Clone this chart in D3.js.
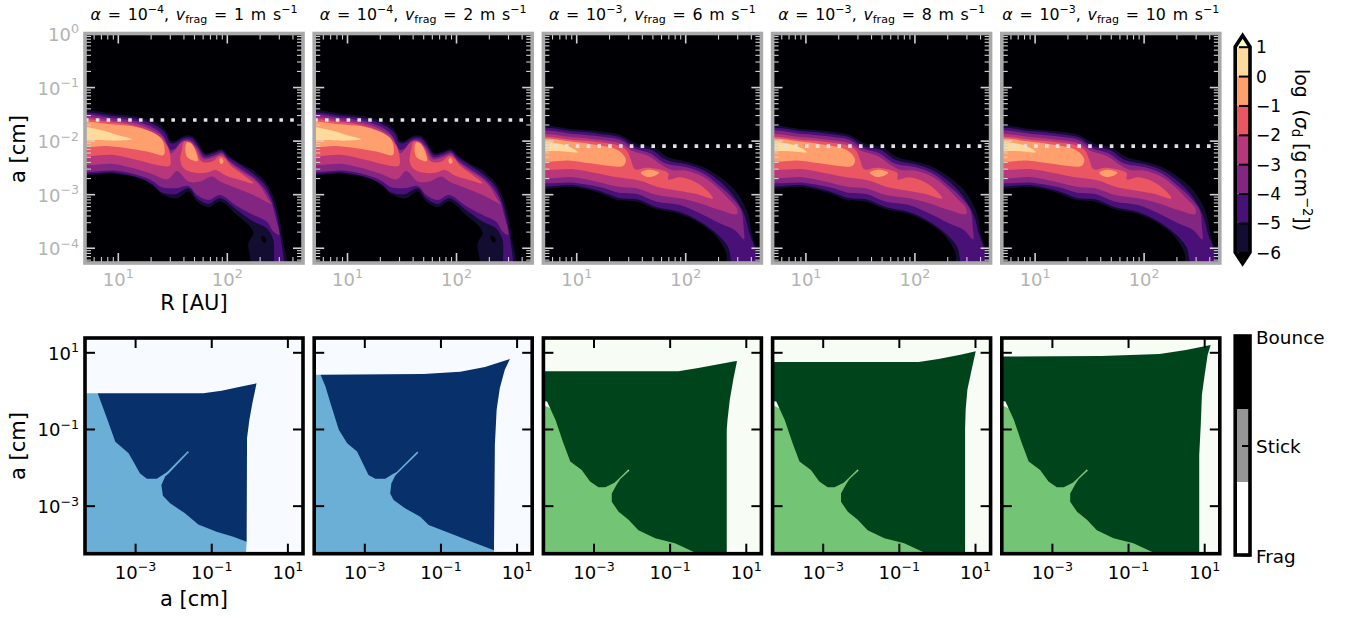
<!DOCTYPE html>
<html><head><meta charset="utf-8">
<script src="https://d3js.org/d3.v7.min.js"></script>
<style>
html,body{margin:0;padding:0;background:#fff}
svg{display:block}
text{font-family:"DejaVu Sans",sans-serif}
</style></head><body>
<svg id="fig" width="1351" height="617"></svg>
<script>
(function(){
// ---------- panel values ----------
const alphaExp = ["−4","−4","−3","−3","−3"];
const vFrag = [1,2,6,8,10];
const dottedSize = [0.0243,0.0243,0.0079,0.0079,0.0079]; // cm
const sigmaLevels = [-6,-5,-4,-3,-2,-1,0,1];
const sigmaColors = ["#120d31","#491078","#832681","#b8377a","#ea5661","#fe9f6d","#feda9c"];
const tipTopColor = "#fcfdbf", tipBottomColor = "#000004";
const regimeLabels = ["Frag","Stick","Bounce"];
const regimeGreys = ["#ffffff","#969696","#000000"];
const blues = ["#f7fbff","#6baed6","#08306b"];
const greens = ["#f7fcf5","#74c476","#00441b"];

// ---------- contour outlines: [log10 R/AU, log10 a/cm] ----------
// low alpha model (panels 1-2)
const lowM6 = [[.6,-1.49],[.963,-1.502],[1.207,-1.564],[1.39,-1.708],[1.457,-1.863],[1.482,-2],[1.527,-2.006],[1.604,-1.913],[1.68,-1.913],[1.741,-2.05],[1.802,-2.236],[1.878,-2.205],[1.954,-2.156],[2.015,-2.268],[2.122,-2.423],[2.244,-2.56],[2.366,-2.797],[2.427,-3.045],[2.473,-3.357],[2.503,-3.73],[2.534,-4.4],[2.244,-4.4],[2.213,-4.166],[2.198,-3.917],[2.244,-3.73],[2.213,-3.605],[2.091,-3.388],[1.939,-3.139],[1.832,-3.245],[1.726,-3.139],[1.649,-2.952],[1.543,-3.077],[1.42,-3.014],[1.329,-2.859],[1.207,-2.703],[.963,-2.622],[.6,-2.579]];
const lowHole = [[2.32,-3.78],[2.351,-3.805],[2.363,-3.885],[2.341,-3.904],[2.32,-3.842]];
const lowM5 = [[.6,-1.527],[.963,-1.54],[1.192,-1.602],[1.375,-1.751],[1.445,-1.894],[1.476,-2.037],[1.518,-2.05],[1.604,-1.95],[1.68,-1.95],[1.732,-2.081],[1.802,-2.268],[1.878,-2.236],[1.954,-2.193],[2.015,-2.311],[2.122,-2.454],[2.244,-2.622],[2.351,-2.828],[2.412,-3.077],[2.457,-3.388],[2.488,-3.73],[2.524,-4.24],[2.53,-4.4],[2.448,-4.4],[2.427,-3.854],[2.366,-3.637],[2.244,-3.512],[2.091,-3.294],[1.939,-3.077],[1.832,-3.182],[1.726,-3.077],[1.649,-2.89],[1.527,-3.002],[1.405,-2.971],[1.314,-2.809],[1.177,-2.685],[.963,-2.597],[.6,-2.548]];
const lowM4 = [[.6,-1.564],[.963,-1.583],[1.177,-1.645],[1.36,-1.801],[1.42,-1.925],[1.457,-2.081],[1.488,-2.174],[1.527,-2.143],[1.604,-1.988],[1.665,-1.988],[1.726,-2.112],[1.793,-2.311],[1.878,-2.28],[1.954,-2.224],[2.015,-2.361],[2.122,-2.516],[2.244,-2.685],[2.335,-2.871],[2.402,-3.108],[2.442,-3.388],[2.479,-3.761],[2.427,-3.699],[2.366,-3.512],[2.244,-3.388],[2.091,-3.22],[1.939,-3.014],[1.832,-3.108],[1.726,-3.014],[1.649,-2.846],[1.527,-2.89],[1.405,-2.871],[1.314,-2.747],[1.177,-2.641],[.963,-2.56],[.6,-2.516]];
const lowM3 = [[.6,-1.614],[.963,-1.627],[1.177,-1.689],[1.345,-1.832],[1.42,-1.956],[1.457,-2.143],[1.488,-2.236],[1.527,-2.174],[1.588,-2.019],[1.665,-2.019],[1.72,-2.143],[1.787,-2.348],[1.878,-2.311],[1.954,-2.255],[2.015,-2.392],[2.122,-2.56],[2.244,-2.722],[2.32,-2.89],[2.381,-3.108],[2.412,-3.182],[2.244,-3.014],[2.091,-2.89],[1.939,-2.765],[1.863,-2.672],[1.756,-2.765],[1.649,-2.765],[1.543,-2.566],[1.457,-2.722],[1.314,-2.622],[1.177,-2.535],[.963,-2.436],[.6,-2.392]];
const lowM2a = [[.6,-1.645],[.963,-1.664],[1.162,-1.726],[1.329,-1.851],[1.405,-1.975],[1.457,-2.112],[1.482,-2.299],[1.476,-2.467],[1.36,-2.454],[1.177,-2.361],[.963,-2.268],[.6,-2.236]];
const lowM2b = [[1.588,-2.174],[1.61,-2.019],[1.665,-2.031],[1.71,-2.143],[1.771,-2.392],[1.863,-2.392],[1.939,-2.286],[1.985,-2.33],[2.03,-2.454],[2.152,-2.641],[2.244,-2.797],[2.122,-2.734],[2,-2.66],[1.893,-2.548],[1.817,-2.597],[1.695,-2.597],[1.604,-2.516],[1.573,-2.361]];
const lowM1a = [[.6,-1.689],[.963,-1.701],[1.177,-1.751],[1.345,-1.876],[1.405,-1.975],[1.427,-2.112],[1.42,-2.268],[1.268,-2.205],[1.085,-2.143],[.902,-2.1],[.6,-2.081]];
const lowM1b = [[1.619,-2.143],[1.634,-2.037],[1.67,-2.05],[1.71,-2.174],[1.732,-2.38],[1.68,-2.361],[1.634,-2.299]];
const lowM1c = [[1.933,-2.348],[1.951,-2.324],[1.97,-2.392],[1.954,-2.436],[1.936,-2.411]];
const lowZ0 = [[.6,-1.751],[.841,-1.801],[.994,-1.894],[1.131,-1.975],[.994,-2],[.841,-1.988],[.6,-1.956]];
// high alpha model (panels 3-5)
const highM6 = [[.6,-1.769],[.979,-1.788],[1.222,-1.832],[1.404,-1.894],[1.556,-2.062],[1.708,-2.125],[1.845,-2.312],[2.012,-2.393],[2.164,-2.486],[2.316,-2.673],[2.468,-2.953],[2.574,-3.358],[2.611,-3.732],[2.65,-3.969],[2.68,-3.981],[2.75,-4],[2.75,-4.4],[2.392,-4.4],[2.377,-4.106],[2.286,-3.794],[2.134,-3.545],[1.951,-3.371],[1.739,-3.283],[1.556,-3.14],[1.374,-3.109],[1.222,-2.984],[.979,-2.872],[.6,-2.829]];
const highM5 = [[.6,-1.813],[.979,-1.826],[1.222,-1.875],[1.404,-1.938],[1.541,-2.112],[1.693,-2.174],[1.83,-2.361],[2.012,-2.442],[2.164,-2.548],[2.301,-2.735],[2.438,-3.016],[2.544,-3.389],[2.59,-3.732],[2.635,-3.981],[2.657,-4.255],[2.66,-4.4],[2.453,-4.4],[2.392,-3.981],[2.286,-3.732],[2.134,-3.508],[1.951,-3.333],[1.739,-3.246],[1.556,-3.097],[1.389,-3.072],[1.222,-2.947],[.979,-2.835],[.6,-2.785]];
const highM4 = [[.6,-1.863],[.979,-1.875],[1.222,-1.925],[1.404,-1.988],[1.526,-2.143],[1.678,-2.237],[1.815,-2.424],[2.012,-2.498],[2.164,-2.611],[2.286,-2.798],[2.422,-3.047],[2.514,-3.296],[2.535,-3.607],[2.538,-3.844],[2.453,-3.67],[2.316,-3.545],[2.134,-3.358],[1.951,-3.202],[1.739,-3.14],[1.556,-2.997],[1.389,-2.972],[1.222,-2.872],[.979,-2.785],[.6,-2.723]];
const highM3 = [[.6,-1.925],[.979,-1.938],[1.222,-1.988],[1.404,-2.05],[1.511,-2.187],[1.663,-2.287],[1.784,-2.455],[1.875,-2.548],[2.012,-2.561],[2.164,-2.673],[2.286,-2.86],[2.407,-3.109],[2.474,-3.265],[2.474,-3.371],[2.316,-3.296],[2.134,-3.171],[1.951,-3.078],[1.739,-3.016],[1.556,-2.891],[1.389,-2.86],[1.191,-2.766],[.979,-2.685],[.6,-2.642]];
const highM2 = [[.6,-1.969],[.979,-1.988],[1.191,-2.025],[1.404,-2.1],[1.471,-2.206],[1.502,-2.361],[1.541,-2.536],[1.647,-2.505],[1.754,-2.536],[1.845,-2.611],[1.845,-2.723],[1.951,-2.685],[2.088,-2.766],[2.195,-2.922],[2.255,-3.078],[2.073,-2.984],[1.891,-2.922],[1.739,-2.86],[1.587,-2.748],[1.374,-2.685],[1.161,-2.598],[.979,-2.536],[.6,-2.486]];
const highM1a = [[.6,-2],[.979,-2.025],[1.191,-2.081],[1.343,-2.143],[1.419,-2.237],[1.456,-2.361],[1.429,-2.474],[1.313,-2.474],[1.131,-2.424],[.948,-2.374],[.6,-2.349]];
const highM1b = [[1.593,-2.598],[1.647,-2.548],[1.723,-2.561],[1.76,-2.598],[1.723,-2.654],[1.647,-2.673]];
const highZ0 = [[.6,-2.05],[.857,-2.062],[.964,-2.143],[1.015,-2.218],[.918,-2.206],[.796,-2.193],[.6,-2.187]];

const lowBands = [[lowM6],[lowM5],[lowM4],[lowM3],[lowM2a,lowM2b],[lowM1a,lowM1b,lowM1c],[lowZ0]];
const highBands = [[highM6],[highM5],[highM4],[highM3],[highM2],[highM1a,highM1b],[highZ0]];

// ---------- collision regime outlines: [log10 a/cm, log10 a/cm] ----------
const bounce1 = [[-3.98,-.07],[-1.21,-.07],[-.73,0],[-.24,.1],[.19,.19],[.08,-.33],[0,-.77],[-.06,-1.24],[-.07,-3.94],[-.42,-3.81],[-.86,-3.68],[-1.34,-3.49],[-1.69,-3.2],[-2.08,-2.94],[-2.27,-2.74],[-2.31,-2.46],[-2.21,-2.24],[-2.12,-2.16],[-1.59,-1.61],[-1.62,-1.58],[-2.16,-2.12],[-2.28,-2.2],[-2.43,-2.3],[-2.69,-2.3],[-2.87,-2.16],[-3.17,-1.63],[-3.52,-1.33],[-3.74,-.72],[-3.92,-.24]];
const bounce2 = [[-4.15,.416],[-1.45,.433],[-.48,.495],[.17,.617],[.825,.826],[.69,.547],[.56,.067],[.476,-.5],[.43,-1.414],[.406,-4.16],[-.18,-3.94],[-.7,-3.74],[-1.31,-3.505],[-1.53,-3.29],[-1.93,-3.07],[-2.23,-2.85],[-2.32,-2.68],[-2.29,-2.42],[-2.19,-2.22],[-2.12,-2.15],[-1.58,-1.62],[-1.61,-1.59],[-2.15,-2.12],[-2.26,-2.18],[-2.45,-2.3],[-2.71,-2.3],[-2.89,-2.2],[-3.19,-1.59],[-3.45,-1.37],[-3.67,-1.02],[-3.89,-.325],[-4.02,.11]];
const edgeHigh = [[-.25,-4.26],[-.86,-3.98],[-1.38,-3.85],[-1.82,-3.64],[-2.08,-3.37],[-2.34,-3.16],[-2.52,-2.9],[-2.52,-2.68],[-2.39,-2.45],[-2.3,-2.31],[-2.06,-2.09],[-2.09,-2.06],[-2.33,-2.29],[-2.45,-2.4],[-2.69,-2.52],[-2.87,-2.52],[-3.09,-2.37],[-3.31,-2.07],[-3.61,-1.85],[-3.79,-1.37],[-4,-.76],[-4.22,-.28],[-4.6,-.24]];
const top3 = [[-4.6,.503],[-.77,.503],[-.25,.59],[.71,.765],[.77,.77],[.67,.285],[.58,-.24],[.52,-.76],[.5,-1.02],[.5,-4.6],[-.25,-4.6]];
const top4 = [[-4.6,.747],[-.48,.747],[.04,.826],[.65,.94],[1.02,1.03],[.93,.63],[.8,.024],[.755,-.5],[.74,-1],[.74,-4.6],[-.25,-4.6]];
const top5 = [[-4.6,.887],[-1.7,.904],[-.17,.957],[.52,1.06],[1.17,1.19],[1.09,.93],[1,.32],[.94,-.11],[.91,-.89],[.87,-1.68],[.87,-4.6],[-.25,-4.6]];
const stickFill1 = [[-4.6,-.07],[-3.98,-.07],[-2,-1],[-.07,-3.94],[-.11,-4.6],[-4.6,-4.6]];
const stickFill2 = [[-4.6,.416],[-4.15,.416],[-2,-1],[.406,-4.16],[.39,-4.6],[-4.6,-4.6]];
const stickFillHigh = [[-4.6,-.24],[-3,-1],[-.25,-4.26],[-.25,-4.6],[-4.6,-4.6]];
const bouncePolys = [bounce1,bounce2,top3.concat(edgeHigh),top4.concat(edgeHigh),top5.concat(edgeHigh)];
const stickPolys = [stickFill1,stickFill2,stickFillHigh,stickFillHigh,stickFillHigh];
const regimeCols = [blues,blues,greens,greens,greens];

// ---------- tick values ----------
const decades = [-4,-3,-2,-1,0];
const rMajor = [10,100];
const rMinor = [6,7,8,9,20,30,40,50,60,70,80,90,200,300,400];
const aMajor = decades.map(e=>Math.pow(10,e));
const aMinor = [-5,-4,-3,-2,-1].flatMap(e=>[2,3,4,5,6,7,8,9].map(m=>m*Math.pow(10,e))).filter(v=>v>5.2e-5);
const mapTicks = [1e-3,1e-1,1e1];

// ---------- layout ----------
const svg = d3.select("#fig");
const panelLeft = i => 85 + i*229.2;
const panelW = 218;
const topBox = {y0:33.5,y1:263}, botBox = {y0:338,y1:553.7};
const grayTick = "#d0d0d0", grayLab = "#b3b3b3", grayFrame = "#a9a9a9";
const FS = 18;

function rich(sel, parts){
  // parts: [string, style] where style is "", "i", "sup" or "sub"
  let shift = 0;
  parts.forEach(([s,st])=>{
    const fs = parseFloat(sel.attr("font-size"));
    const t = sel.append("tspan").text(s);
    let want = 0;
    if(st==="sup"){ want = -fs*.42; t.attr("font-size",fs*.7); }
    if(st==="sub"){ want = fs*.17; t.attr("font-size",fs*.7); }
    if(st==="i") t.attr("font-style","italic");
    t.attr("dy",want-shift);
    shift = want;
  });
}
function sup(d){
  const e = Math.round(Math.log10(d));
  return [["10",""],[e<0?"−"+Math.abs(e):String(e),"sup"]];
}
function ticks(g, gen, vals, len, color, width){
  const a = gen.tickValues(vals).tickSizeInner(-len).tickSizeOuter(0).tickPadding(6).tickFormat(d=>d);
  const n = g.append("g").call(a);
  n.select(".domain").remove();
  n.selectAll("line").attr("stroke",color).attr("stroke-width",width);
  return n;
}
function labelX(n, base, color){
  n.selectAll("text").each(function(d){
    const t = d3.select(this).text(null).attr("dy",null).attr("y",base).attr("fill",color)
      .attr("font-size",FS).attr("text-anchor","middle");
    rich(t,sup(d));
  });
}
function labelY(n, color){
  n.selectAll("text").each(function(d){
    const t = d3.select(this).text(null).attr("dy",null).attr("y",7).attr("x",-6).attr("fill",color)
      .attr("font-size",FS).attr("text-anchor","end");
    rich(t,sup(d));
  });
}
function stripText(n){ n.selectAll("text").remove(); }

const outline = d3.line().curve(d3.curveCatmullRomClosed.alpha(.5));

// ---------- top row ----------
vFrag.forEach((v,i)=>{
  const L = panelLeft(i), R = L+panelW;
  const x = d3.scaleLog().domain([5,500]).range([L,R]);
  const y = d3.scaleLog().domain([Math.pow(10,-4.285),1]).range([topBox.y1,topBox.y0]);
  const id = "clipT"+i;
  svg.append("clipPath").attr("id",id).append("rect").attr("x",L).attr("y",topBox.y0).attr("width",panelW).attr("height",topBox.y1-topBox.y0);
  const g = svg.append("g");
  const c = g.append("g").attr("clip-path",`url(#${id})`);
  c.append("rect").attr("x",L).attr("y",topBox.y0).attr("width",panelW).attr("height",topBox.y1-topBox.y0).attr("fill","#000004");
  const bands = i<2 ? lowBands : highBands;
  const toPx = p => [x(Math.pow(10,p[0])), y(Math.pow(10,p[1]))];
  bands.forEach((polys,k)=>{
    polys.forEach(p=>c.append("path").attr("d",outline(p.map(toPx))).attr("fill",sigmaColors[k]));
    if(k===0 && i<2) c.append("path").attr("d",outline(lowHole.map(toPx))).attr("fill","#000004");
  });
  g.append("line").attr("x1",x(5)).attr("x2",x(500)).attr("y1",y(dottedSize[i])).attr("y2",y(dottedSize[i]))
    .attr("stroke","#e0e0e0").attr("stroke-width",3.6).attr("stroke-dasharray","3.6 7.2");
  // axes
  const xb = g.append("g").attr("transform",`translate(0,${topBox.y1})`);
  const xt = g.append("g").attr("transform",`translate(0,${topBox.y0})`);
  const yl = g.append("g").attr("transform",`translate(${L},0)`);
  const yr = g.append("g").attr("transform",`translate(${R},0)`);
  labelX(ticks(xb,d3.axisBottom(x),rMajor,10,grayTick,1.6),23,grayLab);
  stripText(ticks(xb,d3.axisBottom(x),rMinor,6,grayTick,1.1));
  stripText(ticks(xt,d3.axisTop(x),rMajor,10,grayTick,1.6));
  stripText(ticks(xt,d3.axisTop(x),rMinor,6,grayTick,1.1));
  const ylm = ticks(yl,d3.axisLeft(y),aMajor,10,grayTick,1.6);
  if(i===0) labelY(ylm,grayLab); else stripText(ylm);
  stripText(ticks(yl,d3.axisLeft(y),aMinor,6,grayTick,1.1));
  stripText(ticks(yr,d3.axisRight(y),aMajor,10,grayTick,1.6));
  stripText(ticks(yr,d3.axisRight(y),aMinor,6,grayTick,1.1));
  g.append("rect").attr("x",L).attr("y",topBox.y0).attr("width",panelW).attr("height",topBox.y1-topBox.y0)
    .attr("fill","none").attr("stroke",grayFrame).attr("stroke-width",3.6);
  // title
  const t = svg.append("text").attr("x",L+panelW/2).attr("y",20).attr("text-anchor","start").attr("font-size",15.8)
    .attr("word-spacing",1.7).attr("fill","#000");
  rich(t,[["α","i"],[" = 10",""],[alphaExp[i],"sup"],[", ",""],["v","i"],["frag","sub"],[` = ${v} m s`,""],["−1","sup"]]);
  t.attr("x",L+panelW/2-t.node().getComputedTextLength()/2);
});

// ---------- bottom row ----------
vFrag.forEach((v,i)=>{
  const L = panelLeft(i), R = L+panelW;
  const x = d3.scaleLog().domain([Math.pow(10,-4.316),Math.pow(10,1.41)]).range([L,R]);
  const y = d3.scaleLog().domain([Math.pow(10,-4.253),Math.pow(10,1.373)]).range([botBox.y1,botBox.y0]);
  const id = "clipB"+i;
  svg.append("clipPath").attr("id",id).append("rect").attr("x",L).attr("y",botBox.y0).attr("width",panelW).attr("height",botBox.y1-botBox.y0);
  const g = svg.append("g");
  const c = g.append("g").attr("clip-path",`url(#${id})`);
  const toPx = p => [x(Math.pow(10,p[0])), y(Math.pow(10,p[1]))];
  const poly = d3.line();
  c.append("rect").attr("x",L).attr("y",botBox.y0).attr("width",panelW).attr("height",botBox.y1-botBox.y0).attr("fill",regimeCols[i][0]);
  c.append("path").attr("d",poly(stickPolys[i].map(toPx))+"Z").attr("fill",regimeCols[i][1]);
  c.append("path").attr("d",poly(bouncePolys[i].map(toPx))+"Z").attr("fill",regimeCols[i][2]);
  const xb = g.append("g").attr("transform",`translate(0,${botBox.y1})`);
  const xt = g.append("g").attr("transform",`translate(0,${botBox.y0})`);
  const yl = g.append("g").attr("transform",`translate(${L},0)`);
  const yr = g.append("g").attr("transform",`translate(${R},0)`);
  labelX(ticks(xb,d3.axisBottom(x),mapTicks,10,"#000",2),25.3,"#000");
  stripText(ticks(xt,d3.axisTop(x),mapTicks,10,"#000",2));
  const ylm = ticks(yl,d3.axisLeft(y),mapTicks,10,"#000",2);
  if(i===0) labelY(ylm,"#000"); else stripText(ylm);
  stripText(ticks(yr,d3.axisRight(y),mapTicks,10,"#000",2));
  g.append("rect").attr("x",L).attr("y",botBox.y0).attr("width",panelW).attr("height",botBox.y1-botBox.y0)
    .attr("fill","none").attr("stroke","#000").attr("stroke-width",3.6);
});

// ---------- axis titles ----------
const AF = 21;
svg.append("text").attr("x",194).attr("y",310).attr("text-anchor","middle").attr("font-size",AF).text("R [AU]");
svg.append("text").attr("x",194).attr("y",606).attr("text-anchor","middle").attr("font-size",AF).text("a [cm]");
svg.append("text").attr("transform","translate(25,149) rotate(-90)").attr("text-anchor","middle").attr("font-size",AF).text("a [cm]");
svg.append("text").attr("transform","translate(25,446) rotate(-90)").attr("text-anchor","middle").attr("font-size",AF).text("a [cm]");

// ---------- top colour bar ----------
const cbL = 1235.2, cbR = 1250;
const cy = d3.scaleLinear().domain([-6,1]).range([252.3,46.7]);
const cbG = svg.append("g");
const tipTop = [[cbL,cy(1)],[(cbL+cbR)/2,35.5],[cbR,cy(1)]];
const tipBot = [[cbL,cy(-6)],[(cbL+cbR)/2,263.5],[cbR,cy(-6)]];
cbG.append("path").attr("d",d3.line()(tipTop)+"Z").attr("fill",tipTopColor);
cbG.append("path").attr("d",d3.line()(tipBot)+"Z").attr("fill",tipBottomColor);
cbG.selectAll("rect.band").data(sigmaColors).join("rect").attr("class","band")
  .attr("x",cbL).attr("width",cbR-cbL)
  .attr("y",(d,k)=>cy(sigmaLevels[k+1])).attr("height",(d,k)=>cy(sigmaLevels[k])-cy(sigmaLevels[k+1]))
  .attr("fill",d=>d);
cbG.append("path").attr("d",d3.line()([...tipTop,...tipBot.slice().reverse()])+"Z")
  .attr("fill","none").attr("stroke","#000").attr("stroke-width",3.6).attr("stroke-linejoin","miter");
const cax = d3.axisRight(cy).tickValues(sigmaLevels).tickSizeInner(-11).tickSizeOuter(0).tickPadding(6)
  .tickFormat(d=>d<0?"−"+Math.abs(d):String(d));
const caxG = cbG.append("g").attr("transform",`translate(${cbR},0)`).call(cax);
caxG.select(".domain").remove();
caxG.selectAll("line").attr("stroke","#000").attr("stroke-width",2);
caxG.selectAll("text").attr("font-size",17).attr("fill","#000").attr("font-family","DejaVu Sans").attr("dy",null).attr("y",6);
const cbT = svg.append("text").attr("transform","translate(1295,150) rotate(90)").attr("text-anchor","middle").attr("font-size",18.8).attr("xml:space","preserve");
rich(cbT,[["log  (",""],["σ","i"],["d","sub"],[" [g cm",""],["−2","sup"],["])",""]]);

// ---------- bottom colour bar ----------
const ry = d3.scaleLinear().domain([0,3]).range([555,336]);
const rG = svg.append("g");
rG.selectAll("rect.reg").data(regimeGreys).join("rect").attr("class","reg")
  .attr("x",cbL).attr("width",cbR-cbL).attr("y",(d,k)=>ry(k+1)).attr("height",(d,k)=>ry(k)-ry(k+1)).attr("fill",d=>d);
rG.append("rect").attr("x",cbL).attr("y",ry(3)).attr("width",cbR-cbL).attr("height",ry(0)-ry(3))
  .attr("fill","none").attr("stroke","#000").attr("stroke-width",3.6);
const rax = d3.axisRight(ry).tickValues([0,1.5,3]).tickSizeInner(-8).tickSizeOuter(0).tickPadding(6)
  .tickFormat((d,k)=>regimeLabels[k]);
const raxG = rG.append("g").attr("transform",`translate(${cbR},0)`).call(rax);
raxG.select(".domain").remove();
raxG.selectAll("line").attr("stroke","#000").attr("stroke-width",2);
raxG.selectAll("text").attr("font-size",18.4).attr("fill","#000").attr("font-family","DejaVu Sans").attr("dy",null).attr("y",7);
})();
</script>
</body></html>
